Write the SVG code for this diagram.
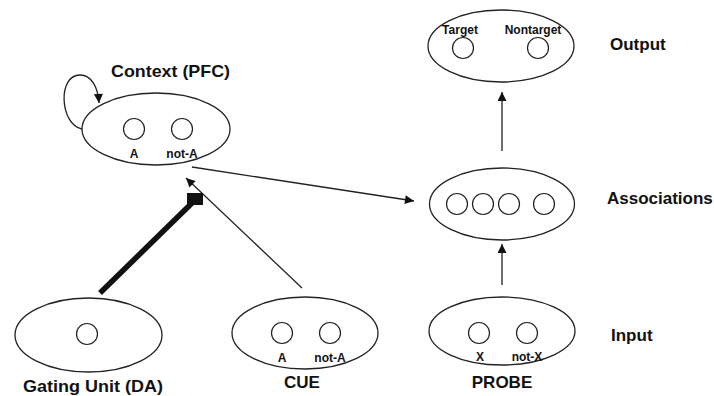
<svg xmlns="http://www.w3.org/2000/svg" width="714" height="396" viewBox="0 0 714 396">
  <style>
    .layer { fill: #fff; stroke: #222; stroke-width: 1.3; }
    .unit { fill: #fff; stroke: #222; stroke-width: 1.2; }
    .title { font-family: "Liberation Sans", Arial, sans-serif; font-weight: bold; font-size: 17px; fill: #111; }
    .lbl { font-family: "Liberation Sans", Arial, sans-serif; font-weight: bold; font-size: 12px; fill: #111; text-anchor: middle; }
    .wire { fill: none; stroke: #222; stroke-width: 1.3; }
  </style>
  <defs>
    <marker id="head" viewBox="0 0 10 10" refX="10" refY="5" markerWidth="12" markerHeight="9" markerUnits="userSpaceOnUse" orient="auto">
      <path d="M0,0 L10,5 L0,10 z" fill="#111"/>
    </marker>
  </defs>
  <rect width="714" height="396" fill="#fff"/>

  <!-- connectors -->
  <g id="connectors">
    <path class="wire" d="M82,129 C60,125 57,75 80,75 C92,75 98,88 99,103" marker-end="url(#head)"/>
    <line class="wire" x1="192" y1="167" x2="414" y2="201" marker-end="url(#head)"/>
    <line class="wire" x1="502" y1="151" x2="502" y2="92" marker-end="url(#head)"/>
    <line class="wire" x1="502" y1="285" x2="502" y2="244" marker-end="url(#head)"/>
    <line class="wire" x1="302" y1="288" x2="186" y2="178" marker-end="url(#head)"/>
    <line x1="100" y1="293" x2="192" y2="203" stroke="#111" stroke-width="5.5"/>
    <rect x="187" y="193" width="16" height="12" fill="#111"/>
  </g>

  <!-- Context (PFC) -->
  <g id="context">
    <ellipse class="layer" cx="156" cy="129" rx="74" ry="36"/>
    <circle class="unit" cx="134" cy="129" r="10.5"/>
    <circle class="unit" cx="182" cy="129" r="10.5"/>
    <text class="lbl" x="134" y="158">A</text>
    <text class="lbl" x="182" y="158">not-A</text>
    <text class="title" x="111" y="77" textLength="119" lengthAdjust="spacingAndGlyphs">Context (PFC)</text>
  </g>

  <!-- Output layer -->
  <g id="output">
    <ellipse class="layer" cx="501" cy="46" rx="73" ry="36"/>
    <circle class="unit" cx="463" cy="48" r="10.5"/>
    <circle class="unit" cx="538" cy="48" r="10.5"/>
    <text class="lbl" x="460" y="34">Target</text>
    <text class="lbl" x="533" y="34">Nontarget</text>
    <text class="title" x="610" y="50">Output</text>
  </g>

  <!-- Associations layer -->
  <g id="associations">
    <ellipse class="layer" cx="502" cy="204" rx="72.5" ry="36"/>
    <circle class="unit" cx="457" cy="204" r="10.5"/>
    <circle class="unit" cx="483" cy="204" r="10.5"/>
    <circle class="unit" cx="509" cy="204" r="10.5"/>
    <circle class="unit" cx="544" cy="204" r="10.5"/>
    <text class="title" x="607" y="204">Associations</text>
  </g>

  <!-- Input layer (PROBE) -->
  <g id="probe">
    <ellipse class="layer" cx="502" cy="331" rx="73" ry="34"/>
    <circle class="unit" cx="479" cy="333" r="10.5"/>
    <circle class="unit" cx="527" cy="333" r="10.5"/>
    <text class="lbl" x="480" y="361">X</text>
    <text class="lbl" x="527" y="361">not-X</text>
    <text class="title" x="502" y="388" text-anchor="middle">PROBE</text>
    <text class="title" x="611" y="341">Input</text>
  </g>

  <!-- CUE layer -->
  <g id="cue">
    <ellipse class="layer" cx="305" cy="333" rx="73" ry="36"/>
    <circle class="unit" cx="282" cy="333" r="10.5"/>
    <circle class="unit" cx="330" cy="333" r="10.5"/>
    <text class="lbl" x="282" y="362">A</text>
    <text class="lbl" x="330" y="362">not-A</text>
    <text class="title" x="302" y="388" text-anchor="middle">CUE</text>
  </g>

  <!-- Gating unit (DA) -->
  <g id="gating">
    <ellipse class="layer" cx="88.5" cy="335" rx="73.5" ry="37"/>
    <circle class="unit" cx="87" cy="334" r="10.5"/>
    <text class="title" x="23" y="392" textLength="140" lengthAdjust="spacingAndGlyphs">Gating Unit (DA)</text>
  </g>
</svg>
